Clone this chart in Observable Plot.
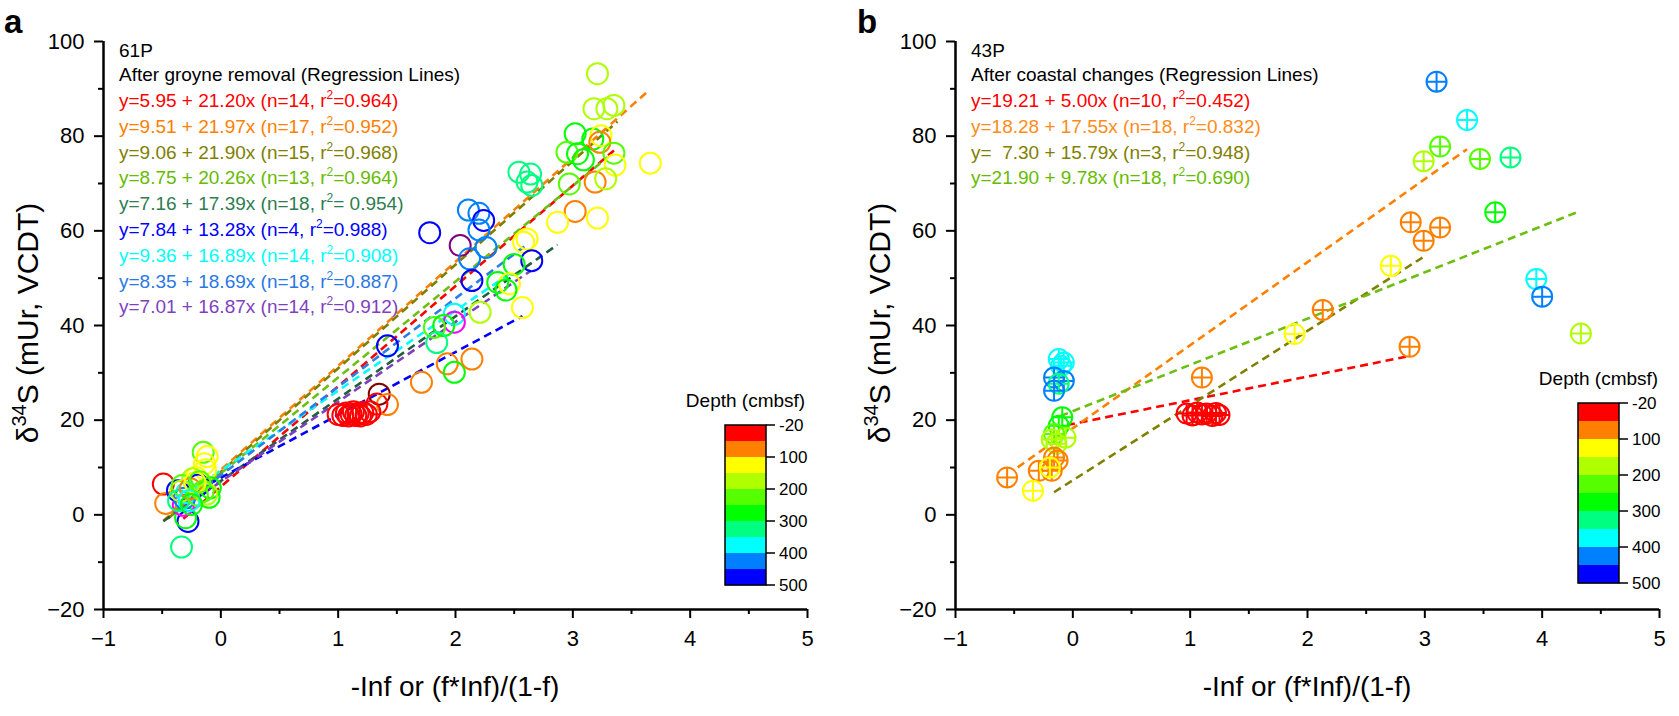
<!DOCTYPE html>
<html><head><meta charset="utf-8">
<script src="https://cdn.jsdelivr.net/npm/d3@7"></script>
<script src="https://cdn.jsdelivr.net/npm/@observablehq/plot@0.6"></script>
<style>
body{margin:0;background:#fff;}
#wrap{position:relative;width:1679px;height:716px;overflow:hidden;background:#fff;}
#wrap svg{position:absolute;top:0;}
</style></head><body><div id="wrap"></div>
<script>
// ---------- Panel a data (61P) ----------
const aX = [3.21,3.18,3.35,3.29,3.02,3.17,3.24,3.23,2.95,3.04,3.09,3.35,3.36,3.66,2.97,3.19,3.28,2.54,2.64,2.61,2.65,3.02,2.87,3.21,
  2.11,2.20,2.24,2.20,1.78,2.04,2.26,2.61,2.58,2.12,2.65,2.50,2.14,2.36,2.46,2.43,2.57,2.21,1.99,1.99,1.82,1.90,1.84,1.42,1.93,1.99,2.14,1.71,
  1.35,1.33,1.42,
  1.00,1.04,1.07,1.09,1.11,1.13,1.15,1.17,1.19,1.21,1.24,1.27,
  -0.49,-0.47,-0.335,-0.28,-0.30,-0.32,-0.37,-0.15,-0.116,-0.14,-0.13,-0.21,-0.24,-0.19,-0.29,-0.31,-0.10,-0.09,-0.34,-0.33,-0.36,-0.26,-0.20,-0.15,-0.12,-0.22,-0.27,-0.25,-0.18];
const aY = [93.2,85.8,86.5,85.8,80.5,79.4,80.1,78.7,76.6,76.3,75.0,76.4,73.9,74.3,69.9,70.3,71.0,72.4,72.0,70.3,69.6,64.1,61.8,62.7,
  64.4,63.7,62.2,60.2,59.6,56.9,56.5,58.3,57.6,54.1,53.7,52.9,49.5,49.1,48.8,47.5,43.8,42.8,42.4,40.7,39.6,40.0,36.4,35.7,31.9,30.1,32.9,28.0,
  25.5,23.4,23.3,
  21.2,21.0,21.5,20.9,21.3,21.8,21.0,21.4,20.9,21.6,21.2,21.8,
  6.5,2.4,-6.8,-1.4,-0.6,2.0,5.1,13.2,12.3,10.8,9.5,7.9,7.6,6.3,4.7,3.5,3.7,5.7,5.0,6.2,3.0,5.5,4.2,5.0,4.4,6.8,3.0,2.2,7.0];
const aDepth = [175,175,175,175,275,275,125,75,225,275,275,225,125,125,225,75,175,325,325,325,325,75,125,125,
  425,425,475,425,475,600,425,125,125,425,475,275,475,275,125,275,125,175,375,525,225,275,325,475,75,275,75,75,
  -50,20,75,
  20,20,20,20,20,20,20,20,20,20,20,20,
  20,75,325,475,275,525,475,225,125,125,125,125,175,475,375,425,275,275,175,225,325,75,225,225,175,125,375,275,225];

// regression lines, panel a
const aIntercept = [5.95,9.51,9.06,8.75,7.16,7.84,9.36,8.35,7.01];
const aSlope     = [21.20,21.97,21.90,20.26,17.39,13.28,16.89,18.69,16.87];
const aFrom      = [-0.32,-0.49,-0.45,-0.42,-0.49,-0.10,-0.25,-0.30,-0.33];
const aTo        = [3.35,3.65,3.38,3.30,2.87,2.57,2.45,2.60,2.64];
const aEquations = [
  "y=5.95 + 21.20x (n=14, r^2=0.964)",
  "y=9.51 + 21.97x (n=17, r^2=0.952)",
  "y=9.06 + 21.90x (n=15, r^2=0.968)",
  "y=8.75 + 20.26x (n=13, r^2=0.964)",
  "y=7.16 + 17.39x (n=18, r^2= 0.954)",
  "y=7.84 + 13.28x (n=4, r^2=0.988)",
  "y=9.36 + 16.89x (n=14, r^2=0.908)",
  "y=8.35 + 18.69x (n=18, r^2=0.887)",
  "y=7.01 + 16.87x (n=14, r^2=0.912)"];
const aTitle = ["61P", "After groyne removal (Regression Lines)"];

// ---------- Panel b data (43P) ----------
const bX = [-0.12,-0.077,-0.10,-0.16,-0.077,-0.12,-0.16,-0.09,-0.12,-0.062,-0.16,-0.18,-0.14,-0.16,-0.13,-0.29,-0.18,-0.196,-0.56,-0.34,
  1.10,0.97,1.02,1.06,1.10,1.14,1.19,1.22,1.25,
  3.10,3.36,3.13,2.99,3.47,3.73,3.60,2.88,3.13,2.99,2.71,2.13,1.89,3.95,4.00,4.33,2.87];
const bY = [32.9,32.2,31.5,29.0,28.3,27.7,26.2,20.6,18.8,16.3,17.1,15.9,15.0,12.1,11.5,9.3,9.3,10.0,7.9,5.1,
  29.0,21.4,21.0,21.6,21.2,21.4,20.9,21.5,21.1,
  91.5,83.4,77.8,74.7,75.2,75.5,63.9,61.8,60.7,57.9,52.6,43.3,38.2,49.8,46.1,38.3,35.5];
const bDepth = [375,375,375,425,425,325,425,275,275,175,225,175,175,75,75,75,75,125,75,125,
  75,20,20,20,20,20,20,20,20,
  425,375,225,175,225,325,275,75,75,75,125,75,125,375,425,175,75];

const bIntercept = [19.21,18.28,7.30,21.90];
const bSlope     = [5.00,17.55,15.79,9.78];
const bFrom      = [-0.05,-0.47,-0.16,-0.105];
const bTo        = [2.85,3.36,2.98,4.30];
const bEquations = [
  "y=19.21 + 5.00x (n=10, r^2=0.452)",
  "y=18.28 + 17.55x (n=18, r^2=0.832)",
  "y=  7.30 + 15.79x (n=3, r^2=0.948)",
  "y=21.90 + 9.78x (n=18, r^2=0.690)"];
const bTitle = ["43P", "After coastal changes (Regression Lines)"];

// ---------- shared scales / ticks ----------
const depthBreaks = [-20,50,100,150,200,250,300,350,400,450,500,550];
const depthColors = ["#800000","#ff0000","#ff8000","#ffff00","#b0ff00","#55ff00","#00ff00","#00ff80","#00ffff","#0080ff","#0000ff","#ff00ff","#800080"];
const barTickValues = [-20,100,200,300,400,500];
const yMajor = [-20,0,20,40,60,80,100];
const yMinor = [-10,10,30,50,70,90];
const xMajor = [-1,0,1,2,3,4,5];
const xMinor = [-0.5,0.5,1.5,2.5,3.5,4.5];

// styles
const aLineColors = ["#ff0000","#ff8000","#808000","#6cbf10","#1f5f3c","#0000ff","#00ffff","#2a7fe6","#7f3fbf"];
const aTextColors = ["#ff0000","#ff8000","#808000","#66bb00","#2e7d50","#0000ff","#00ffff","#2a78e4","#7f3fbf"];
const bLineColors = ["#ff0000","#ff8000","#808000","#6cbf10"];
const bTextColors = ["#ff0000","#ff8c1a","#808000","#66bb00"];
const FONT = "'Liberation Sans', Arial, Helvetica, sans-serif";
const fmt = d => (d < 0 ? "\u2212" : "") + Math.abs(d);

const circlePlus = {
  draw(ctx, size) {
    const r = Math.sqrt(size / Math.PI);
    ctx.moveTo(r, 0); ctx.arc(0, 0, r, 0, 2 * Math.PI);
    ctx.moveTo(-r, 0); ctx.lineTo(r, 0);
    ctx.moveTo(0, -r); ctx.lineTo(0, r);
  }
};

function makePanel(cfg) {
  const pts = cfg.X.map((x, i) => ({x, y: cfg.Y[i], depth: cfg.D[i]}));
  const lineMarks = cfg.inter.map((a, i) => Plot.link(
    [{x1: cfg.from[i], x2: cfg.to[i], y1: a + cfg.slope[i] * cfg.from[i], y2: a + cfg.slope[i] * cfg.to[i]}],
    {x1: "x1", y1: "y1", x2: "x2", y2: "y2", stroke: cfg.lineColors[i], strokeWidth: 2.6, strokeDasharray: "8,5"}));
  const plot = Plot.plot({
    width: cfg.width, height: 716,
    marginLeft: cfg.ml, marginRight: cfg.mr, marginTop: 41, marginBottom: 107,
    x: {domain: [-1, 5]},
    y: {domain: [-20, 100]},
    color: {type: "threshold", domain: depthBreaks, range: depthColors},
    style: {fontFamily: FONT, background: "white", overflow: "visible", color: "black"},
    marks: [
      Plot.axisY(yMajor, {tickSize: 9, tickPadding: 10, fontSize: 22, label: null, strokeWidth: 2, tickFormat: fmt}),
      Plot.axisY(yMinor, {tickSize: 5, tickFormat: () => "", label: null, strokeWidth: 2}),
      Plot.axisX(xMajor, {tickSize: 9, tickPadding: 12, fontSize: 22, label: null, strokeWidth: 2, tickFormat: fmt}),
      Plot.axisX(xMinor, {tickSize: 5, tickFormat: () => "", label: null, strokeWidth: 2}),
      Plot.ruleX([-1], {stroke: "black", strokeWidth: 2.5}),
      Plot.ruleY([-20], {stroke: "black", strokeWidth: 2.5}),
      ...lineMarks,
      cfg.symbol
        ? Plot.dot(pts, {x: "x", y: "y", stroke: "depth", r: 10, strokeWidth: 2, symbol: cfg.symbol, fill: "none"})
        : Plot.dot(pts, {x: "x", y: "y", stroke: "depth", r: 10.5, strokeWidth: 2, fill: "none"})
    ]
  });
  const svg = d3.select(plot);
  const T = (sel) => sel.attr("font-family", FONT).attr("fill", "black").attr("text-anchor", "start");
  // panel letter
  T(svg.append("text")).attr("x", cfg.letterX).attr("y", 33)
    .attr("font-weight", "bold").attr("font-size", 33).text(cfg.letter);
  // y label
  const yl = T(svg.append("text")).attr("transform", `translate(${cfg.ml - 65},323) rotate(-90)`)
    .attr("text-anchor", "middle").attr("font-size", 30);
  yl.append("tspan").text("δ");
  yl.append("tspan").attr("font-size", 20).attr("dy", -12).text("34");
  yl.append("tspan").attr("dy", 12).text("S (mUr, VCDT)");
  // x label
  T(svg.append("text")).attr("x", (cfg.ml + cfg.width - cfg.mr) / 2).attr("y", 696).attr("text-anchor", "middle")
    .attr("font-size", 28).text("-Inf or (f*Inf)/(1-f)");
  // legend text
  const tx = cfg.ml + 16;
  const lines = [...cfg.title.map(t => ({t, c: "black"})), ...cfg.eq.map((t, i) => ({t, c: cfg.textColors[i]}))];
  const base = [57, 81];
  lines.forEach((L, i) => {
    const y = i < 2 ? base[i] : 107 + (i - 2) * 25.8;
    const te = T(svg.append("text")).attr("x", tx).attr("y", y)
      .attr("font-size", 19).attr("fill", L.c).style("white-space", "pre");
    const parts = L.t.split("^2");
    te.append("tspan").text(parts[0]);
    if (parts.length > 1) {
      te.append("tspan").attr("font-size", 12).attr("dy", -8).text("2");
      te.append("tspan").attr("dy", 8).text(parts[1]);
    }
  });
  // colorbar
  const cb = cfg.cb;
  const g = svg.append("g");
  const cols = depthColors.slice(1, 11);
  const bh = cb.h / cols.length;
  cols.forEach((c, i) => g.append("rect").attr("x", cb.x).attr("y", cb.y + i * bh)
    .attr("width", cb.w).attr("height", bh + 0.4).attr("fill", c));
  g.append("rect").attr("x", cb.x).attr("y", cb.y).attr("width", cb.w).attr("height", cb.h)
    .attr("fill", "none").attr("stroke", "black").attr("stroke-width", 1.5);
  barTickValues.forEach(v => {
    const ty = cb.y + depthBreaks.indexOf(v) * bh;
    g.append("line").attr("x1", cb.x + cb.w).attr("x2", cb.x + cb.w + 9).attr("y1", ty).attr("y2", ty)
      .attr("stroke", "black").attr("stroke-width", 1.5);
    T(g.append("text")).attr("x", cb.x + cb.w + 13).attr("y", ty + 6)
      .attr("font-size", 17).text(String(v));
  });
  T(g.append("text")).attr("x", cb.x + cb.w / 2).attr("y", cb.y - 18).attr("text-anchor", "middle")
    .attr("font-size", 19).text("Depth (cmbsf)");
  plot.style.left = cfg.left + "px";
  return plot;
}

const wrap = document.getElementById("wrap");
wrap.appendChild(makePanel({
  X: aX, Y: aY, D: aDepth, inter: aIntercept, slope: aSlope, from: aFrom, to: aTo,
  lineColors: aLineColors, textColors: aTextColors, eq: aEquations, title: aTitle,
  width: 840, ml: 103, mr: 33, left: 0, letter: "a", letterX: 4,
  cb: {x: 725, y: 425, w: 41, h: 160}
}));
wrap.appendChild(makePanel({
  X: bX, Y: bY, D: bDepth, inter: bIntercept, slope: bSlope, from: bFrom, to: bTo,
  lineColors: bLineColors, textColors: bTextColors, eq: bEquations, title: bTitle,
  width: 839, ml: 115, mr: 20, left: 840, letter: "b", letterX: 17, symbol: circlePlus,
  cb: {x: 738, y: 403, w: 41, h: 180}
}));
</script></body></html>
